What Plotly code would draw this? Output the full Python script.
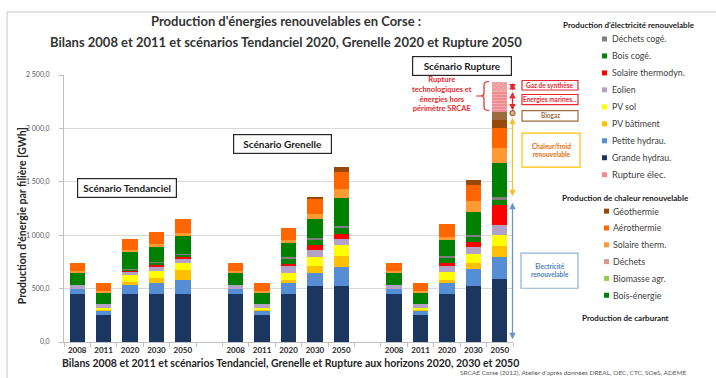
import plotly.graph_objects as go

# ---------------- DATA ----------------
scenarios = ["Tendanciel", "Grenelle", "Rupture"]
years = ["2008", "2011", "2020", "2030", "2050"]

# 15 bars: Tendanciel(5), Grenelle(5), Rupture(5)  -- values in GWh
grande_hydrau   = [450, 250, 450, 450, 450,  450, 250, 450, 524, 524,  450, 250, 450, 527, 593]
petite_hydrau   = [50, 44, 84, 103, 128,     50, 44, 103, 125, 178,    50, 44, 106, 153, 200]
pv_batiment     = [0, 12, 28, 47, 97,        0, 12, 31, 59, 103,       0, 12, 28, 59, 106]
pv_sol          = [0, 15, 62, 69, 69,        0, 15, 62, 87, 100,       0, 15, 69, 84, 106]
eolien          = [37, 31, 37, 31, 31,       37, 31, 62, 62, 59,       37, 31, 62, 62, 90]
solaire_thermo  = [0, 0, 12, 25, 22,         0, 0, 22, 47, 50,         0, 0, 25, 47, 190]
bois_coge       = [0, 0, 10, 19, 19,         0, 0, 53, 53, 56,         0, 0, 50, 59, 53]
dechets_coge    = [0, 0, 5, 5, 5,            0, 0, 12, 16, 12,         0, 0, 12, 12, 16]
bois_energie    = [112, 112, 153, 145, 167,  112, 112, 134, 178, 262,  112, 112, 150, 218, 324]
biomasse_agr    = [0, 0, 0, 0, 0,            0, 0, 0, 0, 0,            0, 0, 0, 0, 0]
dechets         = [0, 0, 0, 0, 0,            0, 0, 0, 0, 0,            0, 0, 0, 0, 0]
solaire_therm   = [12, 12, 22, 28, 37,       12, 12, 28, 50, 84,       12, 12, 31, 97, 137]
aerothermie     = [75, 78, 97, 112, 128,     75, 78, 115, 140, 168,    75, 78, 119, 156, 193]
geothermie      = [0, 0, 0, 0, 0,            0, 0, 0, 16, 41,          0, 0, 0, 44, 75]
biogaz          = [0, 0, 0, 0, 0,            0, 0, 0, 0, 0,            0, 0, 0, 0, 75]
rupture_elec    = [0, 0, 0, 0, 0,            0, 0, 0, 0, 0,            0, 0, 0, 0, 190]
gaz_synthese    = [0, 0, 0, 0, 0,            0, 0, 0, 0, 0,            0, 0, 0, 0, 84]

y_ticks = [0, 500, 1000, 1500, 2000, 2500]
y_ticktext = ["0,0", "500,0", "1 000,0", "1 500,0", "2 000,0", "2 500,0"]

# stacking order (bottom -> top): (name, values, color, pattern)
stack = [
    ("Grande hydrau.", grande_hydrau, "#1B365F", ""),
    ("Petite hydrau.", petite_hydrau, "#558ED5", ""),
    ("PV bâtiment", pv_batiment, "#FFC000", ""),
    ("PV sol", pv_sol, "#FFFF00", ""),
    ("Eolien", eolien, "#B3A2C7", ""),
    ("Solaire thermodyn.", solaire_thermo, "#FF0000", ""),
    ("Bois cogé.", bois_coge, "#078207", ""),
    ("Déchets cogé.", dechets_coge, "#7F7F7F", ""),
    ("Bois-énergie", bois_energie, "#008000", ""),
    ("Biomasse agr.", biomasse_agr, "#92D050", ""),
    ("Déchets", dechets, "#D99694", ""),
    ("Solaire therm.", solaire_therm, "#FF9933", ""),
    ("Aérothermie", aerothermie, "#FF6600", ""),
    ("Géothermie", geothermie, "#984807", ""),
    ("Biogaz", biogaz, "#9C6B3E", ""),
    ("Rupture élec.", rupture_elec, "#EE8C92", "-"),
    ("Gaz de synthèse", gaz_synthese, "#F3A9AC", "x"),
]
colors = {n: c for n, _, c, _ in stack}

legend_elec = ["Déchets cogé.", "Bois cogé.", "Solaire thermodyn.", "Eolien", "PV sol",
               "PV bâtiment", "Petite hydrau.", "Grande hydrau.", "Rupture élec."]
legend_heat = ["Géothermie", "Aérothermie", "Solaire therm.", "Déchets", "Biomasse agr.", "Bois-énergie"]

# ---------------- LAYOUT HELPERS ----------------
W, H = 716, 378
ML, MR, MT, MB = 64, 203, 75, 36.3
PW = W - ML - MR
PH = H - MT - MB
FONT = "Lato, Carlito, Calibri, sans-serif"

def px(x):
    return (x - ML) / PW

def py(y):
    return (H - MB - y) / PH

xpos = [g * 6 + i for g in range(len(scenarios)) for i in range(len(years))]
xlabels = years * len(scenarios)

fig = go.Figure()
for name, vals, col, pat in stack:
    marker = dict(color=col, line=dict(width=0))
    if pat:
        marker["pattern"] = dict(shape=pat, fgcolor="#FBD3D5" if pat == "-" else "#E05A62",
                                 bgcolor=col, size=3, solidity=0.3)
    fig.add_trace(go.Bar(x=xpos, y=vals, name=name, marker=marker, width=0.58,
                         showlegend=False))

ann = []
shapes = []

def text(x, y, t, size, color="#262626", bold=False, xanchor="center", **kw):
    ann.append(dict(x=px(x), y=py(y), xref="paper", yref="paper", text=(f"<b>{t}</b>" if bold else t),
                    showarrow=False, xanchor=xanchor, yanchor="middle",
                    font=dict(family=FONT, size=size, color=color), **kw))

# Titles
text(286, 21, "Production d'énergies renouvelables en Corse :", 13, "#333333", True)
text(286, 42, "Bilans 2008 et 2011 et scénarios Tendanciel 2020, Grenelle 2020 et Rupture 2050", 13, "#333333", True)
text(290, 363, "Bilans 2008 et 2011 et scénarios Tendanciel, Grenelle et Rupture aux horizons 2020, 2030 et 2050", 10.5, "#262626", True)
text(22, 216, "Production d'énergie par filière [GWh]", 10.5, "#262626", True, textangle=-90)
text(458, 372.5, "SRCAE Corse (2012), Atelier d'après données DREAL, OEC, CTC, SOeS, ADEME", 6.5, "#595959", False, xanchor="left")

# Scenario boxes
for cx, cy, w, label in [(126.5, 188, 96, "Scénario Tendanciel"),
                         (282.5, 144, 95, "Scénario Grenelle"),
                         (462, 66.5, 96, "Scénario Rupture")]:
    ann.append(dict(x=px(cx), y=py(cy), xref="paper", yref="paper", text=f"<b>{label}</b>",
                    showarrow=False, xanchor="center", yanchor="middle", width=w, height=16,
                    bgcolor="white", bordercolor="#262626", borderwidth=1.2, borderpad=1,
                    font=dict(family=FONT, size=10, color="#1a1a1a")))

# Rupture explanation
text(441.5, 94, "Rupture<br>technologiques et<br>énergies hors<br>périmètre SRCAE", 7.5, "#E8282E", True)
bx = [px(v) for v in (489, 484, 481, 476)]
by = [py(v) for v in (81.5, 85, 93, 96, 99, 107, 110.5)]
shapes.append(dict(type="path", xref="paper", yref="paper",
                   path=(f"M {bx[0]},{by[0]} Q {bx[1]},{by[0]} {bx[1]},{by[1]} L {bx[1]},{by[2]} "
                         f"Q {bx[1]},{by[3]} {bx[2]},{by[3]} L {bx[3]},{by[3]} M {bx[2]},{by[3]} "
                         f"Q {bx[1]},{by[3]} {bx[1]},{by[4]} L {bx[1]},{by[5]} Q {bx[1]},{by[6]} {bx[0]},{by[6]}"),
                   line=dict(color="#E8282E", width=1.2)))

# Double arrows on the right of the Rupture 2050 bar
AX = 512.5
def darrow(y0, y1, col):
    ann.append(dict(x=px(AX), y=py(y1), xref="paper", yref="paper", ax=0, ay=y0 - y1,
                    axref="pixel", ayref="pixel", text="", showarrow=True,
                    arrowhead=2, arrowside="end+start", arrowsize=1, arrowwidth=1.3, arrowcolor=col))

darrow(81.5, 90.5, "#E8282E")
darrow(90.5, 110.5, "#E8282E")
darrow(116, 196, "#F2C12E")
darrow(201, 339, "#6C95C8")
shapes.append(dict(type="circle", xref="paper", yref="paper", x0=px(AX - 2.5), x1=px(AX + 2.5),
                   y0=py(110.5), y1=py(115.5), line=dict(color="#9C6B3E", width=1.2), fillcolor="#D9B98F"))

# Side labelled boxes
def box(x0, x1, y0, y1, t, col, tcol, size=6.5):
    shapes.append(dict(type="rect", xref="paper", yref="paper", x0=px(x0), x1=px(x1), y0=py(y0), y1=py(y1),
                       line=dict(color=col, width=1.2), fillcolor="white"))
    text((x0 + x1) / 2, (y0 + y1) / 2, t, size, tcol, True)

box(522, 578, 80.5, 90, "Gaz de synthèse", "#E8282E", "#E8282E")
box(522, 578, 94.5, 104.5, "Energies marines...", "#E8282E", "#E8282E")
box(522, 578, 110.5, 121, "Biogaz", "#9C6B3E", "#9C6B3E")
box(522, 580, 133, 167, "Chaleur/froid<br>renouvelable", "#FFC000", "#E46C0A")
box(521, 578, 253, 288, "Electricité<br>renouvelable", "#8EB1DC", "#4F81BD")

# Manual legend
text(629, 25, "Production d'électricité renouvelable", 8, "#1a1a1a", True)
for i, n in enumerate(legend_elec):
    yy = 39 + i * 16.95
    shapes.append(dict(type="rect", xref="paper", yref="paper", x0=px(602), x1=px(607),
                       y0=py(yy - 2.5), y1=py(yy + 2.5), line=dict(width=0), fillcolor=colors[n]))
    text(609.5, yy, n, 8.8 if n != "Rupture élec." else 9.3, "#404040", False, xanchor="left")

text(625, 198, "Production de chaleur renouvelable", 8, "#1a1a1a", True)
for i, n in enumerate(legend_heat):
    yy = 211 + i * 16.8
    shapes.append(dict(type="rect", xref="paper", yref="paper", x0=px(604), x1=px(609),
                       y0=py(yy - 2.5), y1=py(yy + 2.5), line=dict(width=0), fillcolor=colors[n]))
    text(611, yy, n, 8.8, "#404040", False, xanchor="left")
text(625, 318, "Production de carburant", 8, "#1a1a1a", True)

# Outer chart-area frame (cropped)
shapes.append(dict(type="line", xref="paper", yref="paper", x0=px(7), x1=px(716), y0=py(12), y1=py(12),
                   line=dict(color="#C8C8C8", width=1)))
shapes.append(dict(type="line", xref="paper", yref="paper", x0=px(7), x1=px(7), y0=py(12), y1=py(378),
                   line=dict(color="#C8C8C8", width=1)))

fig.update_layout(
    width=W, height=H, barmode="stack",
    margin=dict(l=ML, r=MR, t=MT, b=MB, pad=0),
    paper_bgcolor="white", plot_bgcolor="white",
    font=dict(family=FONT),
    showlegend=False,
    annotations=ann, shapes=shapes,
    xaxis=dict(range=[-0.5, 16.5], tickmode="array", tickvals=xpos, ticktext=xlabels,
               showgrid=False, zeroline=False, showline=True, linecolor="#BFBFBF", linewidth=1,
               ticks="", tickfont=dict(family=FONT, size=8, color="#262626", weight="bold"),
               minor=dict(tickmode="array", tickvals=[k - 0.5 for k in range(18)], ticks="outside",
                          ticklen=4, tickcolor="#BFBFBF", showgrid=False)),
    yaxis=dict(range=[0, 2500], tickmode="array", tickvals=y_ticks, ticktext=y_ticktext,
               showgrid=True, gridcolor="#D9D9D9", gridwidth=1, zeroline=False,
               showline=True, linecolor="#BFBFBF", ticks="outside", ticklen=4, tickcolor="#BFBFBF",
               ticklabelstandoff=8, tickfont=dict(family=FONT, size=7, color="#595959")),
    bargap=0.4,
)

fig.write_html("out.html")
